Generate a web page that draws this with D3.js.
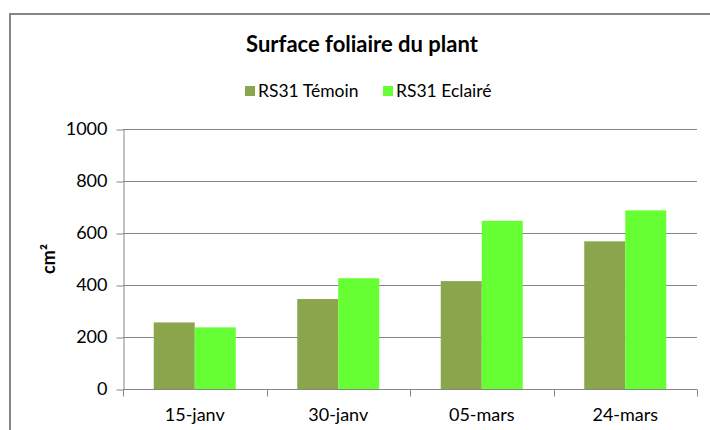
<!DOCTYPE html>
<html>
<head>
<meta charset="utf-8">
<script src="https://cdnjs.cloudflare.com/ajax/libs/d3/7.8.5/d3.min.js"></script>
<style>
  body { margin: 0; background: #fff; }
  text { font-family: Lato, "Open Sans", sans-serif; fill: #000; }
</style>
</head>
<body>
<script>
// data
var dates = ["15-janv", "30-janv", "05-mars", "24-mars"];
var seriesNames = ["RS31 Témoin", "RS31 Eclairé"];
var temoin = [256, 346, 415, 568];
var eclaire = [237, 426, 647, 687];
var yTicks = [0, 200, 400, 600, 800, 1000];
var colors = ["#8aa54c", "#66ff33"];

var width = 710, height = 430;
var margin = {top: 129, right: 13, bottom: 41, left: 123};

var svg = d3.select("body").append("svg")
    .attr("width", width)
    .attr("height", height);

// chart frame (runs off the right and bottom)
svg.append("path")
    .attr("d", "M10,440 L10,14 L720,14")
    .attr("fill", "none")
    .attr("stroke", "#868686")
    .attr("stroke-width", 2);

var x0 = d3.scaleBand()
    .domain(dates)
    .range([margin.left, width - margin.right])
    .paddingInner(1.5 / 3.5)
    .paddingOuter(0.75 / 3.5);

var x1 = d3.scaleBand()
    .domain([0, 1])
    .range([0, x0.bandwidth()]);

var y = d3.scaleLinear()
    .domain([0, 1000])
    .range([height - margin.bottom, margin.top]);

// gridlines
svg.append("g")
    .selectAll("line")
    .data(yTicks.slice(1))
    .enter().append("line")
    .attr("x1", margin.left)
    .attr("x2", width - margin.right)
    .attr("y1", function(d) { return y(d) + 0.5; })
    .attr("y2", function(d) { return y(d) + 0.5; })
    .attr("stroke", "#868686")
    .attr("stroke-width", 1);

// bars
var groups = svg.append("g")
    .selectAll("g")
    .data(dates)
    .enter().append("g")
    .attr("transform", function(d) { return "translate(" + x0(d) + ",0)"; });

groups.selectAll("rect")
    .data(function(d, i) { return [temoin[i], eclaire[i]]; })
    .enter().append("rect")
    .attr("x", function(d, j) { return x1(j); })
    .attr("width", x1.bandwidth())
    .attr("y", function(d) { return y(d); })
    .attr("height", function(d) { return y(0) - y(d); })
    .attr("fill", function(d, j) { return colors[j]; });

// y axis
var yAxis = svg.append("g")
    .attr("transform", "translate(" + (margin.left + 0.5) + ",0)")
    .call(d3.axisLeft(y).tickValues(yTicks).tickFormat(d3.format("d"))
      .tickSize(7).tickPadding(9).tickSizeOuter(0));
yAxis.select(".domain").attr("stroke", "#868686");
yAxis.selectAll(".tick line").attr("stroke", "#868686").attr("transform", "translate(0,0.5)");
yAxis.selectAll(".tick text")
    .style("font-size", "18px")
    .style("font-family", "Lato, sans-serif")
    .attr("fill", "#000");

// x axis: ticks at category boundaries
var step = (width - margin.right - margin.left) / dates.length;
var xAxis = svg.append("g")
    .attr("transform", "translate(0," + (y(0) + 0.5) + ")");
xAxis.append("line")
    .attr("x1", margin.left)
    .attr("x2", width - margin.right)
    .attr("stroke", "#868686");
xAxis.selectAll(".bound")
    .data(d3.range(dates.length + 1))
    .enter().append("line")
    .attr("class", "bound")
    .attr("x1", function(i) { return Math.round(margin.left + i * step) + 0.5; })
    .attr("x2", function(i) { return Math.round(margin.left + i * step) + 0.5; })
    .attr("y1", 0)
    .attr("y2", 7)
    .attr("stroke", "#868686");
xAxis.selectAll(".lbl")
    .data(dates)
    .enter().append("text")
    .attr("class", "lbl")
    .attr("x", function(d) { return x0(d) + x0.bandwidth() / 2; })
    .attr("y", 31)
    .attr("text-anchor", "middle")
    .style("font-size", "18px")
    .text(function(d) { return d; });

// y title
svg.append("text")
    .attr("transform", "translate(55," + y(500) + ") rotate(-90)")
    .attr("text-anchor", "middle")
    .style("font-size", "18px")
    .style("font-weight", "bold")
    .text("cm²");

// title
svg.append("text")
    .attr("x", 362)
    .attr("y", 52)
    .attr("text-anchor", "middle")
    .style("font-size", "22px")
    .style("font-weight", "bold")
    .text("Surface foliaire du plant");

// legend
var legendX = [245, 383];
var legend = svg.append("g")
    .selectAll("g")
    .data(seriesNames)
    .enter().append("g")
    .attr("transform", function(d, i) { return "translate(" + legendX[i] + ",86)"; });
legend.append("rect")
    .attr("width", 10)
    .attr("height", 10)
    .attr("fill", function(d, i) { return colors[i]; });
legend.append("text")
    .attr("x", 13)
    .attr("y", 10.5)
    .style("font-size", "17.5px")
    .text(function(d) { return d; });
</script>
</body>
</html>
